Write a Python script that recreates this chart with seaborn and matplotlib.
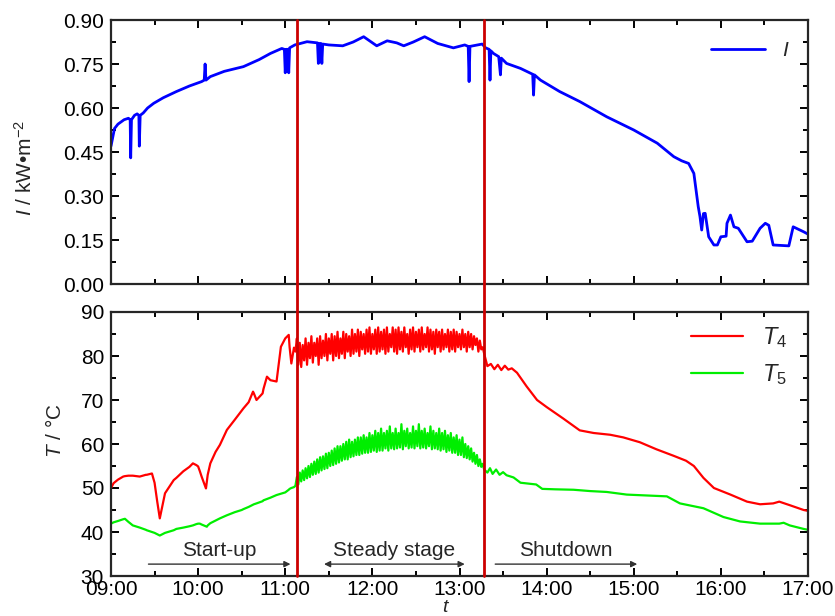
import numpy as np
import pandas as pd
import matplotlib
matplotlib.use("Agg")
import matplotlib.pyplot as plt
import matplotlib.ticker as mticker
import matplotlib.transforms as mtransforms
from matplotlib.lines import Line2D
import seaborn as sns

# ---------------- data ----------------
# Irradiance I (kW/m^2) vs time (hours)
I_t = [9.00, 9.02, 9.04, 9.08, 9.15, 9.20, 9.22, 9.226, 9.235, 9.27, 9.30, 9.32, 9.325, 9.335,
       9.37, 9.42, 9.49, 9.60, 9.75, 9.90, 10.04, 10.07, 10.08, 10.09, 10.14, 10.30, 10.52,
       10.70, 10.83, 10.96, 10.99, 11.00, 11.01, 11.03, 11.04, 11.05, 11.11, 11.25, 11.37,
       11.38, 11.39, 11.41, 11.42, 11.43, 11.50, 11.66, 11.78, 11.90, 12.05, 12.17, 12.28,
       12.36, 12.47, 12.60, 12.75, 12.93, 13.06, 13.10, 13.11, 13.12, 13.26, 13.30, 13.34,
       13.35, 13.36, 13.39, 13.45, 13.47, 13.48, 13.54, 13.70, 13.84, 13.85, 13.86, 13.93,
       14.15, 14.38, 14.69, 15.00, 15.27, 15.46, 15.55, 15.63, 15.69, 15.74, 15.76, 15.78,
       15.80, 15.82, 15.86, 15.92, 15.96, 16.00, 16.06, 16.07, 16.11, 16.15, 16.20, 16.30,
       16.36, 16.45, 16.51, 16.55, 16.60, 16.78, 16.83, 16.95, 17.00]
I_val = [0.47, 0.50, 0.53, 0.545, 0.56, 0.565, 0.56, 0.43, 0.56, 0.575, 0.58, 0.575, 0.47, 0.575,
         0.583, 0.60, 0.616, 0.635, 0.656, 0.675, 0.69, 0.695, 0.75, 0.695, 0.707, 0.725, 0.741,
         0.765, 0.786, 0.803, 0.80, 0.72, 0.80, 0.80, 0.72, 0.805, 0.815, 0.826, 0.822,
         0.752, 0.82, 0.82, 0.752, 0.818, 0.815, 0.812, 0.825, 0.843, 0.812, 0.829, 0.822,
         0.812, 0.825, 0.843, 0.82, 0.805, 0.815, 0.81, 0.69, 0.81, 0.818, 0.805, 0.80,
         0.695, 0.795, 0.786, 0.775, 0.713, 0.77, 0.752, 0.735, 0.715, 0.644, 0.713, 0.695,
         0.656, 0.622, 0.57, 0.525, 0.48, 0.434, 0.42, 0.411, 0.377, 0.264, 0.23, 0.184,
         0.24, 0.241, 0.161, 0.133, 0.133, 0.161, 0.163, 0.207, 0.235, 0.195, 0.19, 0.144,
         0.146, 0.19, 0.207, 0.20, 0.133, 0.13, 0.195, 0.178, 0.17]

# Temperatures before the steady stage (hours, degC)
pre_t = [9.00, 9.03, 9.08, 9.14, 9.16, 9.20, 9.25, 9.33, 9.40, 9.41, 9.47, 9.50, 9.53, 9.56,
         9.59, 9.62, 9.72, 9.75, 9.83, 9.90, 9.94, 9.98, 10.00, 10.02, 10.04, 10.09, 10.10,
         10.11, 10.14, 10.20, 10.25, 10.33, 10.42, 10.50, 10.52, 10.58, 10.63, 10.64, 10.67,
         10.74, 10.75, 10.79, 10.83, 10.90, 10.95, 11.00, 11.04, 11.05, 11.07, 11.10]
pre_T4 = [50.0, 51.1, 51.9, 52.6, 52.7, 52.8, 52.8, 52.6, 53.0, 53.0, 53.3, 51.2, 47.0, 43.1,
          46.0, 48.8, 51.8, 52.3, 53.8, 54.8, 55.6, 55.2, 54.9, 53.8, 52.6, 49.9, 51.5,
          53.0, 55.6, 58.2, 59.8, 63.2, 65.5, 67.6, 68.1, 69.5, 71.9, 71.5, 70.0,
          71.5, 72.5, 75.3, 74.5, 74.2, 82.1, 84.0, 84.8, 82.0, 78.3, 81.9]
pre_T5 = [41.9, 42.2, 42.5, 42.9, 43.0, 42.3, 41.5, 41.0, 40.5, 40.4, 40.0, 39.8, 39.5, 39.2,
          39.5, 39.8, 40.4, 40.7, 41.0, 41.3, 41.5, 41.8, 41.9, 41.9, 41.7, 41.3, 41.2,
          41.5, 42.0, 42.6, 43.1, 43.8, 44.5, 45.0, 45.2, 45.7, 46.2, 46.3, 46.5,
          47.0, 47.2, 47.5, 47.8, 48.4, 48.7, 49.0, 49.6, 49.8, 50.0, 50.2]

# Steady stage, logged once per minute from 11:07 to 13:17 (minutes after midnight)
steady_min = list(range(667, 798))
steady_T4 = [81, 84, 78, 83, 77.5, 82.5, 79, 84, 78, 83,
             79.5, 84.5, 78.5, 83, 80, 84, 78, 84.5, 79.5, 83.5,
             80, 85, 79, 84, 80.5, 85, 79, 84.5, 80, 85.5,
             79.5, 84, 80.5, 85.5, 79.5, 85, 81, 84.5, 80, 86,
             80.5, 85, 81, 86, 80, 85.5, 81.5, 85, 80.5, 86,
             81, 86.5, 80.5, 85, 81.5, 86, 80.5, 86.5, 81, 85.5,
             81.5, 86, 80.5, 86.5, 81, 85, 82, 86.5, 81, 86,
             80.5, 86.5, 81.5, 85.5, 81, 86.5, 82, 85, 80.5, 86,
             81.5, 86.5, 81, 85.5, 82, 86, 81, 86.5, 81.5, 85,
             82, 86.5, 81, 86, 81.5, 85.5, 80.5, 86, 82, 85.5,
             81, 86, 81.5, 85, 82, 86, 81, 85.5, 81.5, 86,
             81, 85.5, 82, 85, 81.5, 86, 82, 85, 81, 85.5,
             82, 85, 81.5, 84.5, 82.5, 84, 81, 83.5, 81.5, 82,
             80.5]
steady_T5 = [50.5, 52.5, 50.8, 53.5, 51.5, 54, 51.8, 54.5, 52.2, 55,
             52.5, 55.5, 53, 56, 53.2, 56.5, 53.5, 57, 54, 57.2,
             54.3, 57.8, 54.5, 58, 55, 58.5, 55.2, 59, 55.5, 59.5,
             55.8, 59.5, 56.2, 60, 56.5, 60.5, 56.5, 61, 57, 60.5,
             57.2, 61, 57.5, 61.5, 57.5, 61.5, 57.8, 62, 58, 61.5,
             58, 62.5, 58.2, 62, 58.5, 63, 58.2, 62.5, 58.5, 63.5,
             58.5, 62.5, 59, 63, 58.5, 64, 59, 62.5, 58.8, 63.5,
             59, 62.5, 59.2, 64.5, 58.8, 63, 59.5, 63.5, 59, 62.5,
             59.2, 64, 59, 63, 59.5, 64.5, 59, 63, 59.2, 63.5,
             59, 62.5, 59.5, 64, 58.8, 63, 59, 62.5, 58.8, 63.5,
             58.5, 62.5, 58.8, 63, 58.2, 62, 58.5, 62.5, 58, 61.5,
             58, 62, 57.5, 61, 57.5, 61.5, 57, 60, 56.8, 59.5,
             56.5, 59, 56, 58, 55.5, 57.5, 55, 56.5, 54.8, 55.5,
             54.2]

# Shutdown stage (hours, degC)
post_t4_t = [13.32, 13.36, 13.40, 13.44, 13.48, 13.52, 13.56, 13.60, 13.66, 13.72, 13.77,
             13.89, 14.00, 14.19, 14.38, 14.54, 14.73, 14.88, 15.07, 15.26, 15.46, 15.60,
             15.69, 15.80, 15.92, 16.11, 16.30, 16.45, 16.60, 16.67, 16.79, 16.95, 17.00]
post_T4 = [77.7, 78.2, 77.0, 78.0, 76.8, 77.8, 76.9, 77.2, 76.2, 74.5, 73.1,
           70.0, 68.4, 65.8, 63.1, 62.5, 62.1, 61.5, 60.4, 58.8, 57.3, 56.2,
           55.0, 52.3, 50.0, 48.5, 46.9, 46.3, 46.5, 46.9, 46.1, 45.0, 44.8]
post_t5_t = [13.32, 13.35, 13.38, 13.42, 13.46, 13.50, 13.54, 13.62, 13.70, 13.88, 13.95,
             14.10, 14.31, 14.50, 14.69, 14.92, 15.15, 15.38, 15.53, 15.65, 15.80, 16.03,
             16.22, 16.45, 16.67, 16.72, 16.79, 16.95, 17.00]
post_T5 = [53.5, 54.5, 53.2, 54.2, 53.0, 53.6, 52.9, 52.4, 51.2, 50.8, 49.8,
           49.7, 49.6, 49.3, 49.1, 48.5, 48.3, 48.1, 46.5, 46.0, 45.4, 43.4,
           42.4, 41.9, 41.9, 42.1, 41.5, 40.7, 40.5]

stage_bounds = [11.135, 13.28]          # red separators (hours)
stage_labels = ["Start-up", "Steady stage", "Shutdown"]
stage_arrows = [(9.43, 11.06), (11.445, 13.06), (13.41, 15.04)]
stage_arrowstyle = ["-|>", "<|-|>", "-|>"]
hour_ticks = list(range(9, 18))

# ---------------- assemble ----------------
steady_h = [m / 60.0 for m in steady_min]
t4_time = pre_t + steady_h + post_t4_t
t4_val = pre_T4 + steady_T4 + post_T4
t5_time = pre_t + steady_h + post_t5_t
t5_val = pre_T5 + steady_T5 + post_T5

df_I = pd.DataFrame({"t": I_t, "I": I_val})
df_T4 = pd.DataFrame({"t": t4_time, "T": t4_val})
df_T5 = pd.DataFrame({"t": t5_time, "T": t5_val})

# ---------------- style ----------------
sns.set_style("ticks")
plt.rcParams["font.family"] = ["Liberation Sans", "DejaVu Sans"]
plt.rcParams["mathtext.fontset"] = "custom"
plt.rcParams["mathtext.rm"] = "Liberation Sans"
plt.rcParams["mathtext.it"] = "Liberation Sans:italic"
plt.rcParams["axes.linewidth"] = 1.6

FS = 15
fig = plt.figure(figsize=(8.35, 6.16), dpi=100)
L, R = 111 / 835, 808 / 835
ax1 = fig.add_axes([L, 1 - 284 / 616, R - L, 264 / 616])
ax2 = fig.add_axes([L, 1 - 576 / 616, R - L, 264 / 616])

sns.lineplot(data=df_I, x="t", y="I", ax=ax1, color="#0000ff", lw=2.0,
             sort=False, estimator=None, label="$I$")
sns.lineplot(data=df_T4, x="t", y="T", ax=ax2, color="#ff0000", lw=1.6,
             sort=False, estimator=None, label="$T_4$")
sns.lineplot(data=df_T5, x="t", y="T", ax=ax2, color="#00ee00", lw=1.6,
             sort=False, estimator=None, label="$T_5$")

hourfmt = mticker.FuncFormatter(lambda v, p: f"{int(round(v)):02d}:00")
for ax in (ax1, ax2):
    ax.set_xlim(9, 17)
    ax.set_xticks(hour_ticks)
    ax.xaxis.set_minor_locator(mticker.MultipleLocator(0.5))
    ax.tick_params(which="both", direction="in", top=True, right=True,
                   labelsize=FS, width=1.4, colors="black")
    ax.tick_params(which="major", length=6, pad=5)
    ax.tick_params(which="minor", length=3.5)
    for s in ax.spines.values():
        s.set_visible(True)
        s.set_linewidth(1.6)
ax2.tick_params(axis="x", which="major", pad=3)

ax1.set_ylim(0, 0.9)
ax1.yaxis.set_major_locator(mticker.MultipleLocator(0.15))
ax1.yaxis.set_minor_locator(mticker.MultipleLocator(0.075))
ax1.yaxis.set_major_formatter(mticker.FormatStrFormatter("%.2f"))
ax1.tick_params(axis="x", labelbottom=False)
ax1.set_xlabel("")
ax1.set_ylabel("$I$ / kW\u2022m$^{-2}$", fontsize=FS)
ax1.yaxis.set_label_coords(-0.108, 0.44)

ax2.set_ylim(30, 90)
ax2.yaxis.set_major_locator(mticker.MultipleLocator(10))
ax2.yaxis.set_minor_locator(mticker.MultipleLocator(5))
ax2.xaxis.set_major_formatter(hourfmt)
ax2.set_ylabel("$T$ / \u00b0C", fontsize=FS)
ax2.yaxis.set_label_coords(-0.066, 0.55)
ax2.set_xlabel("t", fontsize=14, fontstyle="italic")
ax2.xaxis.set_label_coords(0.479, -0.088)

leg1 = ax1.legend(loc="upper right", frameon=False, fontsize=FS, handlelength=2.6,
                  bbox_to_anchor=(1.0, 0.99))
leg2 = ax2.legend(loc="upper right", frameon=False, fontsize=FS + 2, handlelength=2.2,
                  bbox_to_anchor=(1.0, 1.03), labelspacing=0.5)

# stage separators spanning both panels
trans = mtransforms.blended_transform_factory(ax2.transData, fig.transFigure)
for xb in stage_bounds:
    fig.add_artist(Line2D([xb, xb], [1 - 576 / 616, 1 - 20 / 616], transform=trans,
                          color="#cc0000", lw=2.0, zorder=5))

# stage arrows and labels
for (x0, x1), lab, st in zip(stage_arrows, stage_labels, stage_arrowstyle):
    ax2.annotate("", xy=(x1, 32.7), xytext=(x0, 32.7),
                 arrowprops=dict(arrowstyle=st, color="#333333", lw=1.0,
                                 mutation_scale=9, shrinkA=0, shrinkB=0))
    ax2.text((x0 + x1) / 2, 35.9, lab, ha="center", va="center", fontsize=FS)

fig.savefig("out.png", dpi=100)
